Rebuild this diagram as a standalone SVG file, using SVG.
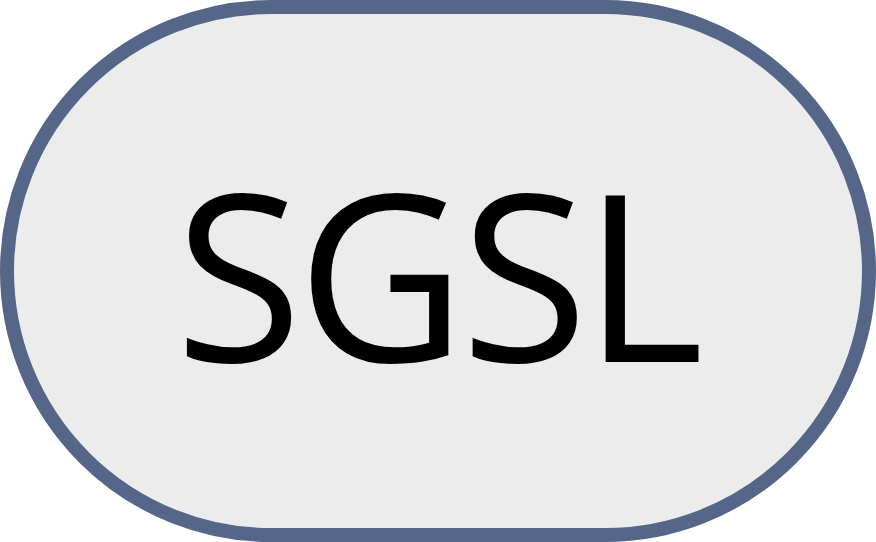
<svg xmlns="http://www.w3.org/2000/svg" width="876" height="542" viewBox="0 0 876 542">
<style>
.node{fill:#ececec;stroke:#556688;stroke-width:14}
.lbl{font-family:"Open Sans","Noto Sans","DejaVu Sans",sans-serif;font-size:232px;fill:#000;letter-spacing:-5px}
</style>
<g id="node-sgsl">
<rect class="node" x="7" y="7" width="862" height="528" rx="264" ry="264"/>
<text class="lbl" x="437" y="362" text-anchor="middle">SGSL</text>
</g>
<g id="connectors"/>
</svg>
